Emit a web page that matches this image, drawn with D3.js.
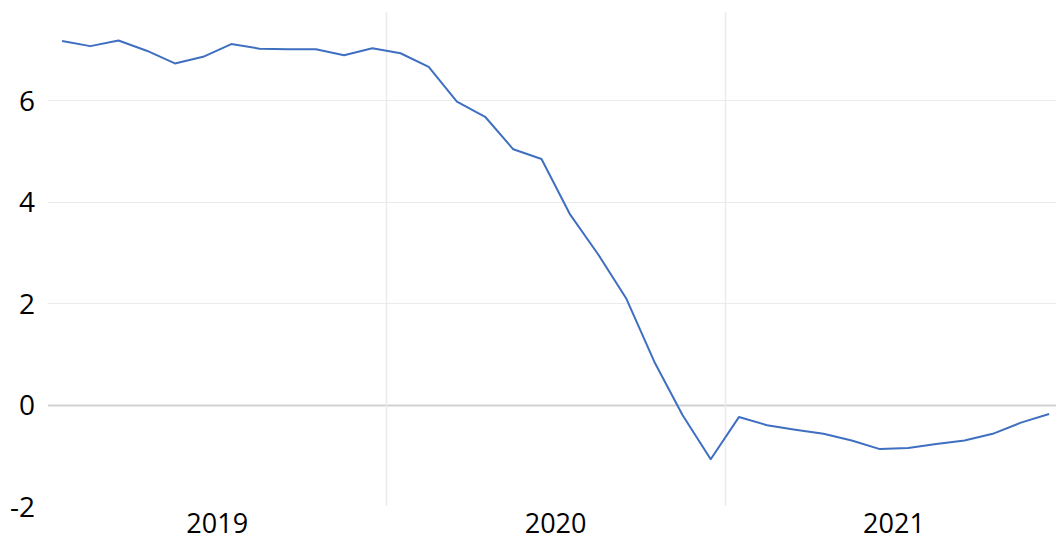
<!DOCTYPE html>
<html>
<head>
<meta charset="utf-8">
<script src="https://cdn.jsdelivr.net/npm/d3@7"></script>
<style>
  body { margin: 0; background: #fff; }
  text { font-family: "Open Sans", "Noto Sans", sans-serif; fill: #000; }
</style>
</head>
<body>
<div id="chart"></div>
<script>
// Chart size
var svgWidth = 1056;
var svgHeight = 542;

// Year labels along the bottom
var years = ["2019", "2020", "2021"];

// Monthly values, Jan 2019 .. Dec 2021
var values = [
  7.16, 7.06, 7.17, 6.97, 6.72, 6.85, 7.10, 7.01, 7.00, 7.00, 6.88, 7.02,
  6.92, 6.65, 5.97, 5.67, 5.03, 4.84, 3.76, 2.97, 2.10, 0.85, -0.20, -1.07,
  -0.24, -0.40, -0.49, -0.57, -0.70, -0.87, -0.85, -0.77, -0.70, -0.57, -0.35, -0.18
];

// Y tick values
var yTicks = [-2, 0, 2, 4, 6];

var svg = d3.select("#chart")
  .append("svg")
  .attr("width", svgWidth)
  .attr("height", svgHeight);

// x scale over month index (each year is 12 slots)
var xScale = d3.scaleLinear()
  .domain([0, years.length * 12])
  .range([48, 1063.2]);

var yScale = d3.scaleLinear()
  .domain([-2, 6])
  .range([506.5, 100]);

// horizontal gridlines (none at -2)
svg.append("g")
  .selectAll("line")
  .data(yTicks.filter(d => d !== -2))
  .enter()
  .append("line")
  .attr("x1", 48)
  .attr("x2", svgWidth)
  .attr("y1", d => Math.round(yScale(d)) + 0.5)
  .attr("y2", d => Math.round(yScale(d)) + 0.5)
  .attr("stroke", d => d === 0 ? "#d2d2d2" : "#ebebeb")
  .attr("stroke-width", d => d === 0 ? 2 : 1);

// vertical year boundaries
svg.append("g")
  .selectAll("line")
  .data(d3.range(1, years.length))
  .enter()
  .append("line")
  .attr("x1", d => Math.round(xScale(d * 12)) + 0.5)
  .attr("x2", d => Math.round(xScale(d * 12)) + 0.5)
  .attr("y1", 12)
  .attr("y2", 506)
  .attr("stroke", "#ebebeb")
  .attr("stroke-width", 1.5);

// y axis labels (plain hyphen for negatives)
var leftAxis = d3.axisLeft(yScale)
  .tickValues(yTicks)
  .tickSize(0)
  .tickPadding(0)
  .tickFormat(d => String(d));

var yAxis = svg.append("g")
  .attr("transform", "translate(35, 0)")
  .call(leftAxis);
yAxis.select(".domain").remove();
yAxis.selectAll("text")
  .attr("font-family", "Open Sans, sans-serif")
  .attr("font-size", 28)
  .attr("fill", "#000")
  .attr("dy", "0.36em");

// x axis year labels, centered in each year
svg.append("g")
  .selectAll("text")
  .data(years)
  .enter()
  .append("text")
  .attr("x", (d, i) => xScale(i * 12 + 6))
  .attr("y", 533)
  .attr("text-anchor", "middle")
  .attr("font-size", 27)
  .text(d => d);

// the line
var line = d3.line()
  .x((d, i) => xScale(i + 0.5))
  .y(d => yScale(d));

svg.append("path")
  .datum(values)
  .attr("d", line)
  .attr("fill", "none")
  .attr("stroke", "#3f6fc0")
  .attr("stroke-width", 2)
  .attr("stroke-linejoin", "round");
</script>
</body>
</html>
